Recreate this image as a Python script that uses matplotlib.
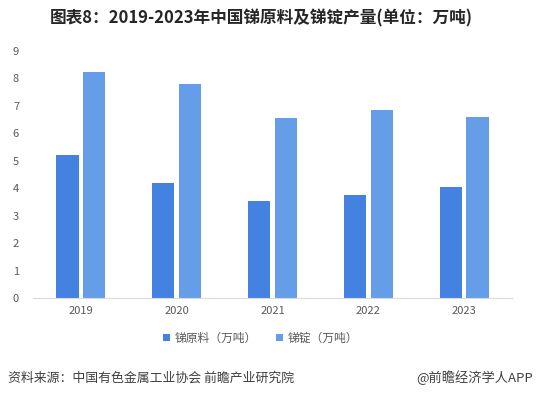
import numpy as np
import matplotlib.pyplot as plt

plt.rcParams['font.family'] = ['Noto Sans CJK SC', 'DejaVu Sans']

years = ['2019', '2020', '2021', '2022', '2023']
raw = [5.2, 4.2, 3.55, 3.77, 4.05]      # 锑原料（万吨）
ingot = [8.25, 7.78, 6.55, 6.85, 6.6]   # 锑锭（万吨）

c_raw = '#4382E0'
c_ingot = '#659DE8'

fig = plt.figure(figsize=(5.38, 3.99), dpi=100)
ax = fig.add_axes([33/538, 1-298/399, 479/538, (298-51)/399])

x = np.arange(len(years))
w = 0.23
ax.bar(x - 0.14, raw, w, color=c_raw, label='锑原料（万吨）')
ax.bar(x + 0.14, ingot, w, color=c_ingot, label='锑锭（万吨）')

ax.set_xlim(-0.5, 4.5)
ax.set_ylim(0, 9)
ax.set_yticks(range(10))
ax.set_xticks(x)
ax.set_xticklabels(years)
ax.tick_params(axis='both', length=0, labelsize=8, colors='#595959')
ax.tick_params(axis='y', pad=10)
ax.tick_params(axis='x', pad=6)
for s in ['top', 'right', 'left']:
    ax.spines[s].set_visible(False)
ax.spines['bottom'].set_color('#d9d9d9')

fig.legend(loc='center', bbox_to_anchor=(0.485, 1-338/399), ncol=2, frameon=False,
           fontsize=8.5, handlelength=0.6, handleheight=0.6, columnspacing=1.6,
           handletextpad=0.4, labelcolor='#595959')

fig.text(261/538, 1-18/399, '图表8：2019-2023年中国锑原料及锑锭产量(单位：万吨)',
         ha='center', va='center', fontsize=12, fontweight='bold', color='#262626')
fig.text(8/538, 1-378/399, '资料来源：中国有色金属工业协会 前瞻产业研究院',
         ha='left', va='center', fontsize=9.3, color='#404040')
fig.text(533/538, 1-378/399, '@前瞻经济学人APP',
         ha='right', va='center', fontsize=9.5, color='#404040')

fig.savefig('out.png', dpi=100)
